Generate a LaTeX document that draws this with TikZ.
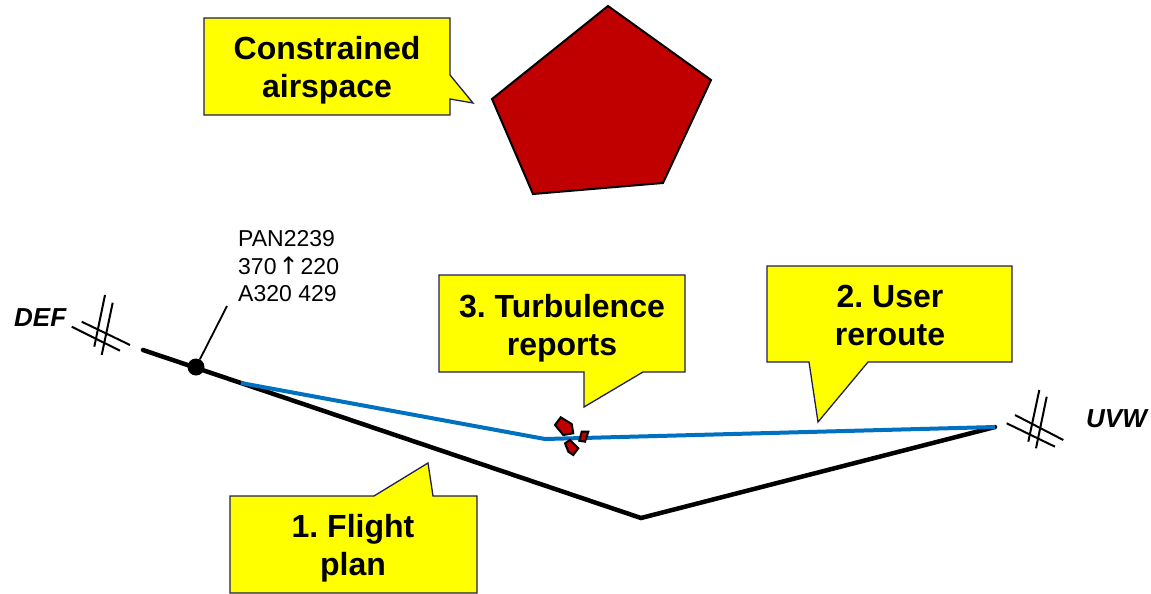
\documentclass[tikz,border=0pt]{standalone}
\usepackage{fontspec}
\setmainfont{Liberation Sans}
\newfontfamily\arrowfont{DejaVu Sans}
\frenchspacing
\definecolor{calloutfill}{RGB}{255,255,0}
\definecolor{calloutedge}{RGB}{30,30,90}
\definecolor{hazard}{RGB}{192,0,0}
\definecolor{reroute}{RGB}{0,112,192}
\tikzset{
  callout/.style={draw=calloutedge, fill=calloutfill, line width=1.3pt, line join=miter},
  callouttext/.style={font=\fontsize{32}{37.5}\selectfont\bfseries, align=center,
    anchor=base, inner sep=0pt},
  route/.style={line width=4.5pt, line cap=round, line join=miter},
  fixmark/.style={line width=2pt},
  hazardshape/.style={draw=black, fill=hazard, line width=2pt, line join=miter},
  fixname/.style={font=\fontsize{26}{30}\selectfont\bfseries\itshape, anchor=base west, inner sep=0pt},
}
\begin{document}
\begin{tikzpicture}[x=1pt,y=-1pt]
\useasboundingbox (0,0) rectangle (1151,594);

% route points
\coordinate (defEnd) at (143,350);
\coordinate (branch) at (241,383);
\coordinate (fpLow) at (641,518);
\coordinate (uvwPt) at (995,427);
\coordinate (rrMid) at (545,439);

% filed flight plan (black) and user reroute (blue)
\draw[route, black] (defEnd) -- (branch) -- (fpLow) -- (uvwPt);
\draw[route, reroute, line width=4pt, line cap=butt, line join=round] (branch) -- (rrMid) -- (uvwPt);

% constrained airspace
\draw[hazardshape] (608,6) -- (711,80) -- (663,183) -- (533,194) -- (492,99) -- cycle;

% turbulence report symbols
\draw[hazardshape] (555,425) -- (560.7,417.3) -- (571.7,424) -- (573.3,433.3) -- (563.3,435) -- cycle;
\draw[hazardshape] (581.7,431.7) -- (588.3,431.7) -- (585,441.7) -- (579.3,440.7) -- cycle;
\draw[hazardshape] (565,443.3) -- (570,440) -- (578.3,448.3) -- (573.3,455) -- (568.3,451.7) -- cycle;

% fix symbol DEF
\draw[fixmark] (105,295) -- (94.3,346.7);
\draw[fixmark] (112.7,302.7) -- (101.7,355);
\draw[fixmark] (81.7,321.7) -- (130,345);
\draw[fixmark] (71.7,326.7) -- (120,350.7);
\node (defName) [fixname] at (14,326) {DEF};

% fix symbol UVW
\draw[fixmark] (1039.3,390) -- (1028.3,441.7);
\draw[fixmark] (1046.7,396.7) -- (1036,448.3);
\draw[fixmark] (1015,415) -- (1063.3,440);
\draw[fixmark] (1006.7,423.3) -- (1055,446.7);
\node (uvwName) [fixname] at (1086,427) {UVW};

% aircraft position and data block
\node (acft) [circle, fill=black, minimum size=17pt, inner sep=0pt] at (196,367) {};
\coordinate (leaderEnd) at (227,306);
\draw[line width=1.8pt] (acft) -- (leaderEnd);
\node (acLabel) [anchor=base west, align=left, inner sep=0pt,
  font=\fontsize{23}{27.5}\selectfont] at (238,301.7)
  {PAN2239\\370\hspace{2pt}{\arrowfont\fontsize{24}{27.5}\selectfont ↑}\hspace{2pt}220\\A320 429};

% callouts
\draw[callout] (204,18) -- (450,18) -- (450,75) -- (473,103) -- (450,99) -- (450,115) -- (204,115) -- cycle;
\node (csTxt) [callouttext] at (327,97) {Constrained\\airspace};

\draw[callout] (439,275) -- (685,275) -- (685,372) -- (643,372) -- (584,407) -- (584,372) -- (439,372) -- cycle;
\node (tbTxt) [callouttext] at (562,355) {3. Turbulence\\reports};

\draw[callout] (767,266) -- (1012,266) -- (1012,362) -- (868,362) -- (818,422) -- (809,362) -- (767,362) -- cycle;
\node (urTxt) [callouttext] at (890,345) {2. User\\reroute};

\draw[callout] (230,496) -- (374,496) -- (428,463) -- (433,496) -- (477,496) -- (477,593) -- (230,593) -- cycle;
\node (fpTxt) [callouttext] at (353,575) {1. Flight\\plan};
\end{tikzpicture}
\end{document}
